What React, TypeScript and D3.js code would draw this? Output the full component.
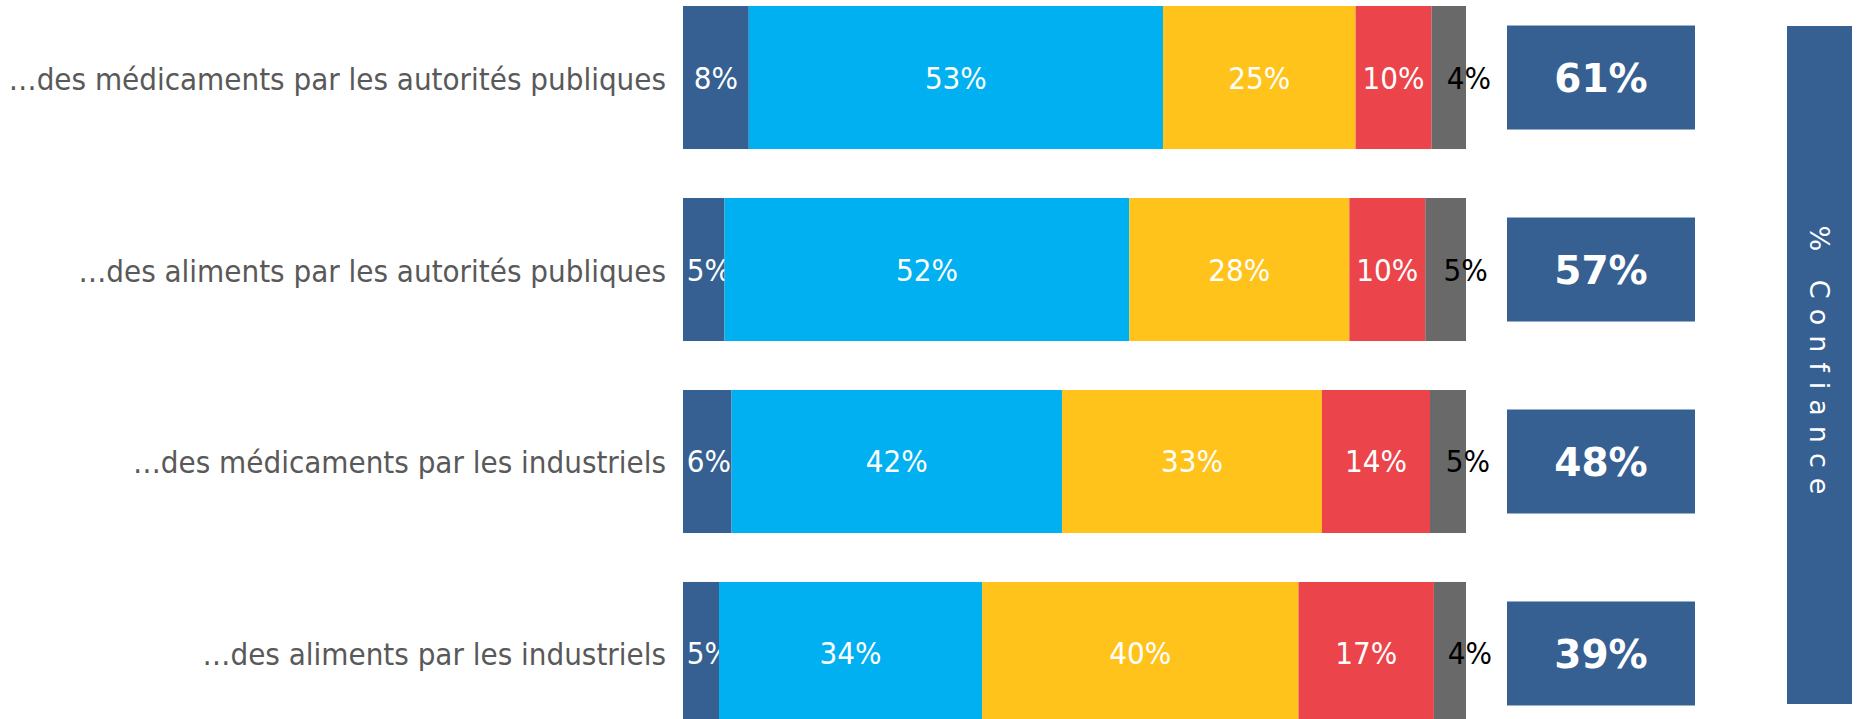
import React from "react";
import * as d3 from "d3";

const categories = [
  "…des médicaments par les autorités publiques",
  "…des aliments par les autorités publiques",
  "…des médicaments par les industriels",
  "…des aliments par les industriels",
];
const seriesKeys = ["s1", "s2", "s3", "s4", "s5"];
const s1 = [8.4, 5.3, 6.2, 4.6];
const s2 = [52.9, 51.7, 42.2, 33.6];
const s3 = [24.6, 28.1, 33.2, 40.4];
const s4 = [9.7, 9.7, 13.8, 17.3];
const s5 = [4.4, 5.2, 4.6, 4.1];
const confiance = [61, 57, 48, 39];
const confianceTitle = "% Confiance";

const colors = ["#366092", "#00B0F0", "#FFC31B", "#EB444A", "#696969"];

const W = 1858;
const H = 719;

export default function App() {
  const rows = categories.map((c, i) => ({
    cat: c,
    s1: s1[i],
    s2: s2[i],
    s3: s3[i],
    s4: s4[i],
    s5: s5[i],
  }));
  const stack = d3.stack<any>().keys(seriesKeys)(rows);
  const x = d3.scaleLinear().domain([0, 100]).range([683, 1466]);
  const y = d3
    .scaleBand<string>()
    .domain(categories)
    .range([6, 725])
    .paddingInner(0.255)
    .paddingOuter(0);
  const bw = y.bandwidth();
  const boxH = 104;
  const boxX0 = 1507;
  const boxX1 = 1695;
  const condensed = "'DejaVu Sans Condensed', 'DejaVu Sans', sans-serif";
  const fmt = d3.format(".0f");

  return (
    <svg
      width={W}
      height={H}
      style={{ position: "absolute", left: 0, top: 0, background: "#fff" }}
    >
      {stack.map((layer, li) =>
        layer.map((d, i) => {
          const cat = categories[i];
          const x0 = x(d[0]);
          const x1 = x(d[1]);
          const yy = y(cat)!;
          const val = d[1] - d[0];
          const last = li === seriesKeys.length - 1;
          let tx = last ? (x0 + x1) / 2 + 20 : (x0 + x1) / 2;
          if (li === 0) tx = Math.max(tx, x0 + 26);
          return (
            <g key={`${li}-${i}`}>
              <rect x={x0} y={yy} width={x1 - x0} height={bw} fill={colors[li]} />
              <text
                x={tx}
                y={yy + bw / 2}
                textAnchor="middle"
                dominantBaseline="central"
                fontFamily={condensed}
                fontSize={31}
                fill={last ? "#000" : "#fff"}
              >
                {fmt(val)}%
              </text>
            </g>
          );
        })
      )}
      {categories.map((c) => (
        <text
          key={c}
          x={666}
          y={y(c)! + bw / 2 + 1}
          textAnchor="end"
          dominantBaseline="central"
          fontFamily={condensed}
          fontSize={31}
          fill="#595959"
        >
          {c}
        </text>
      ))}
      {categories.map((c, i) => {
        const cy = y(c)! + bw / 2;
        return (
          <g key={"box" + i}>
            <rect x={boxX0} y={cy - boxH / 2} width={boxX1 - boxX0} height={boxH} fill="#366092" />
            <text
              x={(boxX0 + boxX1) / 2}
              y={cy + 1}
              textAnchor="middle"
              dominantBaseline="central"
              fontFamily="'DejaVu Sans', Verdana, sans-serif"
              fontWeight="bold"
              fontSize={39}
              fill="#fff"
            >
              {confiance[i]}%
            </text>
          </g>
        );
      })}
      <rect x={1787} y={26} width={65} height={678} fill="#366092" />
      <text
        transform={`translate(${1819.5},${365}) rotate(90)`}
        textAnchor="middle"
        dominantBaseline="central"
        fontFamily="'DejaVu Sans', sans-serif"
        fontSize={27}
        letterSpacing={10}
        fill="#fff"
      >
        {confianceTitle}
      </text>
    </svg>
  );
}
